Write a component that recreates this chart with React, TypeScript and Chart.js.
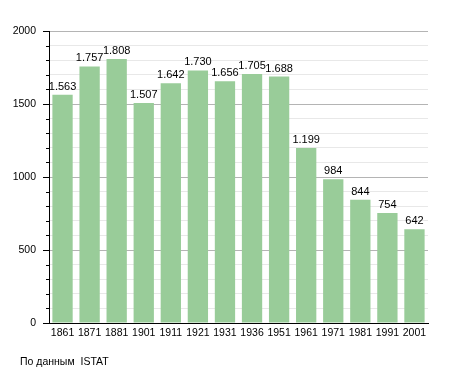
import React, { useEffect, useRef } from "react";
import { Chart, registerables } from "chart.js";

Chart.register(...registerables);

const years = ["1861", "1871", "1881", "1901", "1911", "1921", "1931", "1936", "1951", "1961", "1971", "1981", "1991", "2001"];
const population = [1563, 1757, 1808, 1507, 1642, 1730, 1656, 1705, 1688, 1199, 984, 844, 754, 642];
const yTickLabels = ["0", "500", "1000", "1500", "2000"];
const sourceNote = "По данным  ISTAT";

const FONT = '"Liberation Sans", Arial, sans-serif';

const fmt = (v: number) => {
  const s = String(v);
  return s.length > 3 ? s.slice(0, s.length - 3) + "." + s.slice(s.length - 3) : s;
};

const valueLabels = {
  id: "valueLabels",
  afterDatasetsDraw(chart: any) {
    const ctx = chart.ctx;
    const meta = chart.getDatasetMeta(0);
    ctx.save();
    ctx.font = `11px ${FONT}`;
    ctx.fillStyle = "#000";
    ctx.textAlign = "center";
    ctx.textBaseline = "alphabetic";
    meta.data.forEach((bar: any, i: number) => {
      ctx.fillText(fmt(population[i]), bar.x, bar.y - 5);
    });
    ctx.restore();
  },
};

const yTickMarks = {
  id: "yTickMarks",
  afterDraw(chart: any) {
    const y = chart.scales.y;
    const ctx = chart.ctx;
    const x0 = chart.chartArea.left;
    ctx.save();
    ctx.strokeStyle = "#000";
    ctx.lineWidth = 1;
    for (let v = 0; v <= 2000; v += 100) {
      const py = Math.round(y.getPixelForValue(v)) + 0.5;
      const len = v % 500 === 0 ? 6 : 3;
      ctx.beginPath();
      ctx.moveTo(x0 - len, py);
      ctx.lineTo(x0, py);
      ctx.stroke();
    }
    ctx.restore();
  },
};

export default function App() {
  const ref = useRef<HTMLCanvasElement>(null);
  useEffect(() => {
    if (!ref.current) return;
    const chart = new Chart(ref.current, {
      type: "bar",
      data: {
        labels: years,
        datasets: [
          {
            data: population,
            backgroundColor: "#99cc99",
            borderWidth: 0,
            barPercentage: 0.75,
            categoryPercentage: 1,
          },
        ],
      },
      options: {
        animation: false,
        responsive: false,
        maintainAspectRatio: false,
        layout: { padding: { top: 31, right: 27, left: 0, bottom: 0 } },
        plugins: { legend: { display: false }, tooltip: { enabled: false } },
        scales: {
          x: {
            grid: { display: false, drawTicks: false },
            border: { display: true, color: "#000", width: 1 },
            ticks: { color: "#000", font: { family: FONT, size: 10.5 }, padding: 4, maxRotation: 0, autoSkip: false },
            afterFit: (s: any) => {
              s.height = 50;
            },
          },
          y: {
            min: 0,
            max: 2000,
            grid: {
              drawTicks: false,
              color: (c: any) => (c.tick && c.tick.value % 500 === 0 ? "#b4b4b4" : "#e8e8e8"),
            },
            border: { display: true, color: "#000", width: 1 },
            ticks: {
              stepSize: 100,
              autoSkip: false,
              color: "#000",
              font: { family: FONT, size: 10.5 },
              padding: 13,
              callback: (v: any) => {
                const n = Number(v);
                return n % 500 === 0 ? yTickLabels[n / 500] : "";
              },
            },
            afterFit: (s: any) => {
              s.width = 49;
            },
          },
        },
      },
      plugins: [valueLabels, yTickMarks],
    });
    return () => chart.destroy();
  }, []);
  return (
    <div style={{ position: "absolute", left: 0, top: 0, width: 455, height: 373, background: "#fff" }}>
      <canvas ref={ref} width={455} height={373} style={{ display: "block" }} />
      <div
        style={{
          position: "absolute",
          left: 20,
          top: 354,
          fontFamily: FONT,
          fontSize: "10.5px",
          color: "#000",
          whiteSpace: "pre",
          lineHeight: "14px",
        }}
      >
        {sourceNote}
      </div>
    </div>
  );
}
